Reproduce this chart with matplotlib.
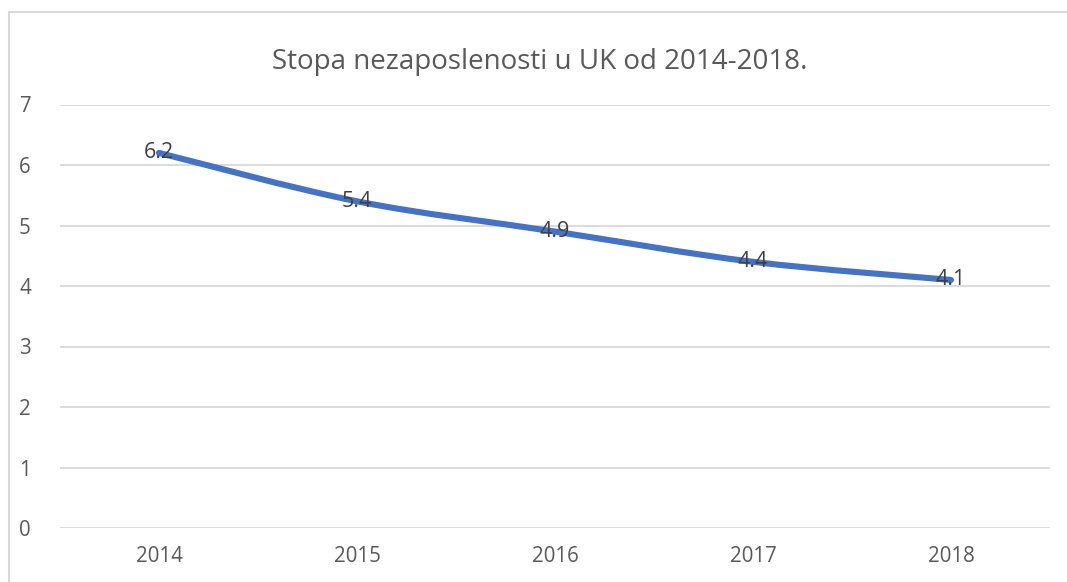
import matplotlib
matplotlib.use('Agg')
import matplotlib.pyplot as plt
from matplotlib.path import Path
from matplotlib.patches import PathPatch
from matplotlib.lines import Line2D

plt.rcParams['font.family'] = ['Open Sans', 'DejaVu Sans']

# podaci
godine = ['2014', '2015', '2016', '2017', '2018']
stopa = [6.2, 5.4, 4.9, 4.4, 4.1]
naslov = 'Stopa nezaposlenosti u UK od 2014-2018.'

fig = plt.figure(figsize=(10.67, 5.82), dpi=100)
ax = fig.add_axes([60 / 1067, 1 - 528 / 582, 990 / 1067, 423.5 / 582])

x = list(range(len(godine)))

# zagladjena linija kao u Excelu (Bezier kroz tocke)
pts = list(zip(x, stopa))
verts = [pts[0]]
codes = [Path.MOVETO]
for i in range(len(pts) - 1):
    p0 = pts[i - 1] if i > 0 else pts[i]
    p1 = pts[i]
    p2 = pts[i + 1]
    p3 = pts[i + 2] if i + 2 < len(pts) else pts[i + 1]
    c1 = (p1[0] + (p2[0] - p0[0]) / 6, p1[1] + (p2[1] - p0[1]) / 6)
    c2 = (p2[0] - (p3[0] - p1[0]) / 6, p2[1] - (p3[1] - p1[1]) / 6)
    verts += [c1, c2, p2]
    codes += [Path.CURVE4] * 3
patch = PathPatch(Path(verts, codes), facecolor='none', edgecolor='#4472C4',
                  lw=4.4, capstyle='round', joinstyle='round', zorder=3)
ax.add_patch(patch)

for xi, yi in zip(x, stopa):
    ax.text(xi, yi, str(yi), ha='center', va='center', fontsize=15.5,
            color='#404040', zorder=4)

ax.set_xlim(-0.5, len(godine) - 0.5)
ax.set_ylim(0, 7)
ax.set_yticks(range(0, 8))
ax.set_xticks(x)
ax.set_xticklabels(godine)
ax.grid(axis='y', color='#D9D9D9', lw=1.3)
ax.set_axisbelow(True)
for s in ax.spines.values():
    s.set_visible(False)
ax.tick_params(length=0, labelsize=14.8, labelcolor='#595959')
ax.tick_params(axis='y', pad=21)
ax.tick_params(axis='x', pad=13)

fig.text(540 / 1067, 1 - 62 / 582, naslov, ha='center', va='center',
         fontsize=20, color='#595959')

# okvir grafikona
fig.add_artist(Line2D([9 / 1067, 1], [1 - 12 / 582] * 2, color='#D9D9D9',
                      lw=1.5, transform=fig.transFigure))
fig.add_artist(Line2D([9 / 1067] * 2, [0, 1 - 12 / 582], color='#D9D9D9',
                      lw=1.5, transform=fig.transFigure))

fig.savefig('out.png', dpi=100)
